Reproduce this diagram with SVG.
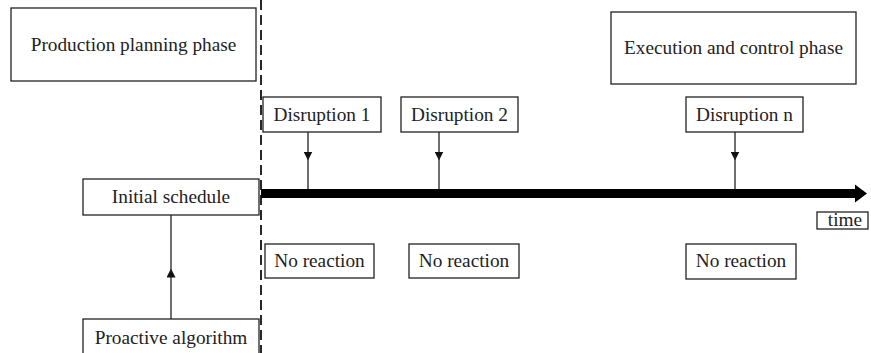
<svg xmlns="http://www.w3.org/2000/svg" width="871" height="353" viewBox="0 0 871 353">
  <style>
    .box { fill: #fff; stroke: #222; stroke-width: 1.3; }
    .lbl { font-family: "Liberation Serif", "Times New Roman", serif; font-size: 19.3px; fill: #222; text-anchor: middle; }
    .line { stroke: #222; stroke-width: 1.3; fill: none; }
  </style>
  <defs>
    <marker id="tri" viewBox="0 0 10 10" refX="5" refY="5" markerWidth="9" markerHeight="9" markerUnits="userSpaceOnUse" orient="auto">
      <path d="M0,0 L10,5 L0,10 z" fill="#111"/>
    </marker>
  </defs>
  <rect width="871" height="353" fill="#fff"/>

  <!-- phase divider -->
  <line x1="261" y1="0" x2="261" y2="353" stroke="#111" stroke-width="1.8" stroke-dasharray="10,5"/>

  <!-- connectors -->
  <g id="connectors">
    <!-- time axis -->
    <rect x="261" y="189" width="596" height="9" fill="#000"/>
    <polygon points="855,184.5 867,193.5 855,202.5" fill="#000"/>
    <!-- disruption arrows: arrowhead halfway down each line -->
    <path class="line" d="M308,132 V156" marker-end="url(#tri)"/>
    <path class="line" d="M308,156 V189"/>
    <path class="line" d="M439,132 V156" marker-end="url(#tri)"/>
    <path class="line" d="M439,156 V189"/>
    <path class="line" d="M735,132 V156" marker-end="url(#tri)"/>
    <path class="line" d="M735,156 V189"/>
    <!-- proactive algorithm to initial schedule -->
    <path class="line" d="M171,319 V273" marker-end="url(#tri)"/>
    <path class="line" d="M171,273 V215"/>
  </g>

  <g id="planning-phase">
    <rect class="box" x="11" y="8" width="245" height="73"/>
    <text class="lbl" x="133.5" y="51">Production planning phase</text>
  </g>
  <g id="execution-phase">
    <rect class="box" x="611" y="12" width="245" height="72"/>
    <text class="lbl" x="733.5" y="54">Execution and control phase</text>
  </g>

  <g id="disruption-1">
    <rect class="box" x="263" y="97" width="118" height="35"/>
    <text class="lbl" x="322" y="121">Disruption 1</text>
  </g>
  <g id="disruption-2">
    <rect class="box" x="401" y="97" width="117" height="35"/>
    <text class="lbl" x="459.5" y="121">Disruption 2</text>
  </g>
  <g id="disruption-n">
    <rect class="box" x="686" y="97" width="117" height="35"/>
    <text class="lbl" x="744.5" y="121">Disruption n</text>
  </g>

  <g id="initial-schedule">
    <rect class="box" x="83" y="179" width="176" height="36"/>
    <text class="lbl" x="171" y="203">Initial schedule</text>
  </g>
  <g id="proactive-algorithm">
    <rect class="box" x="83" y="319" width="176" height="40"/>
    <text class="lbl" x="171" y="344">Proactive algorithm</text>
  </g>

  <g id="time-label">
    <rect class="box" x="817" y="212" width="51" height="17"/>
    <text class="lbl" x="845" y="226">time</text>
  </g>

  <g id="no-reaction-1">
    <rect class="box" x="265" y="244" width="109" height="34"/>
    <text class="lbl" x="319.5" y="267">No reaction</text>
  </g>
  <g id="no-reaction-2">
    <rect class="box" x="409" y="244" width="110" height="34"/>
    <text class="lbl" x="464" y="267">No reaction</text>
  </g>
  <g id="no-reaction-n">
    <rect class="box" x="686" y="244" width="110" height="35"/>
    <text class="lbl" x="741" y="267">No reaction</text>
  </g>
</svg>
